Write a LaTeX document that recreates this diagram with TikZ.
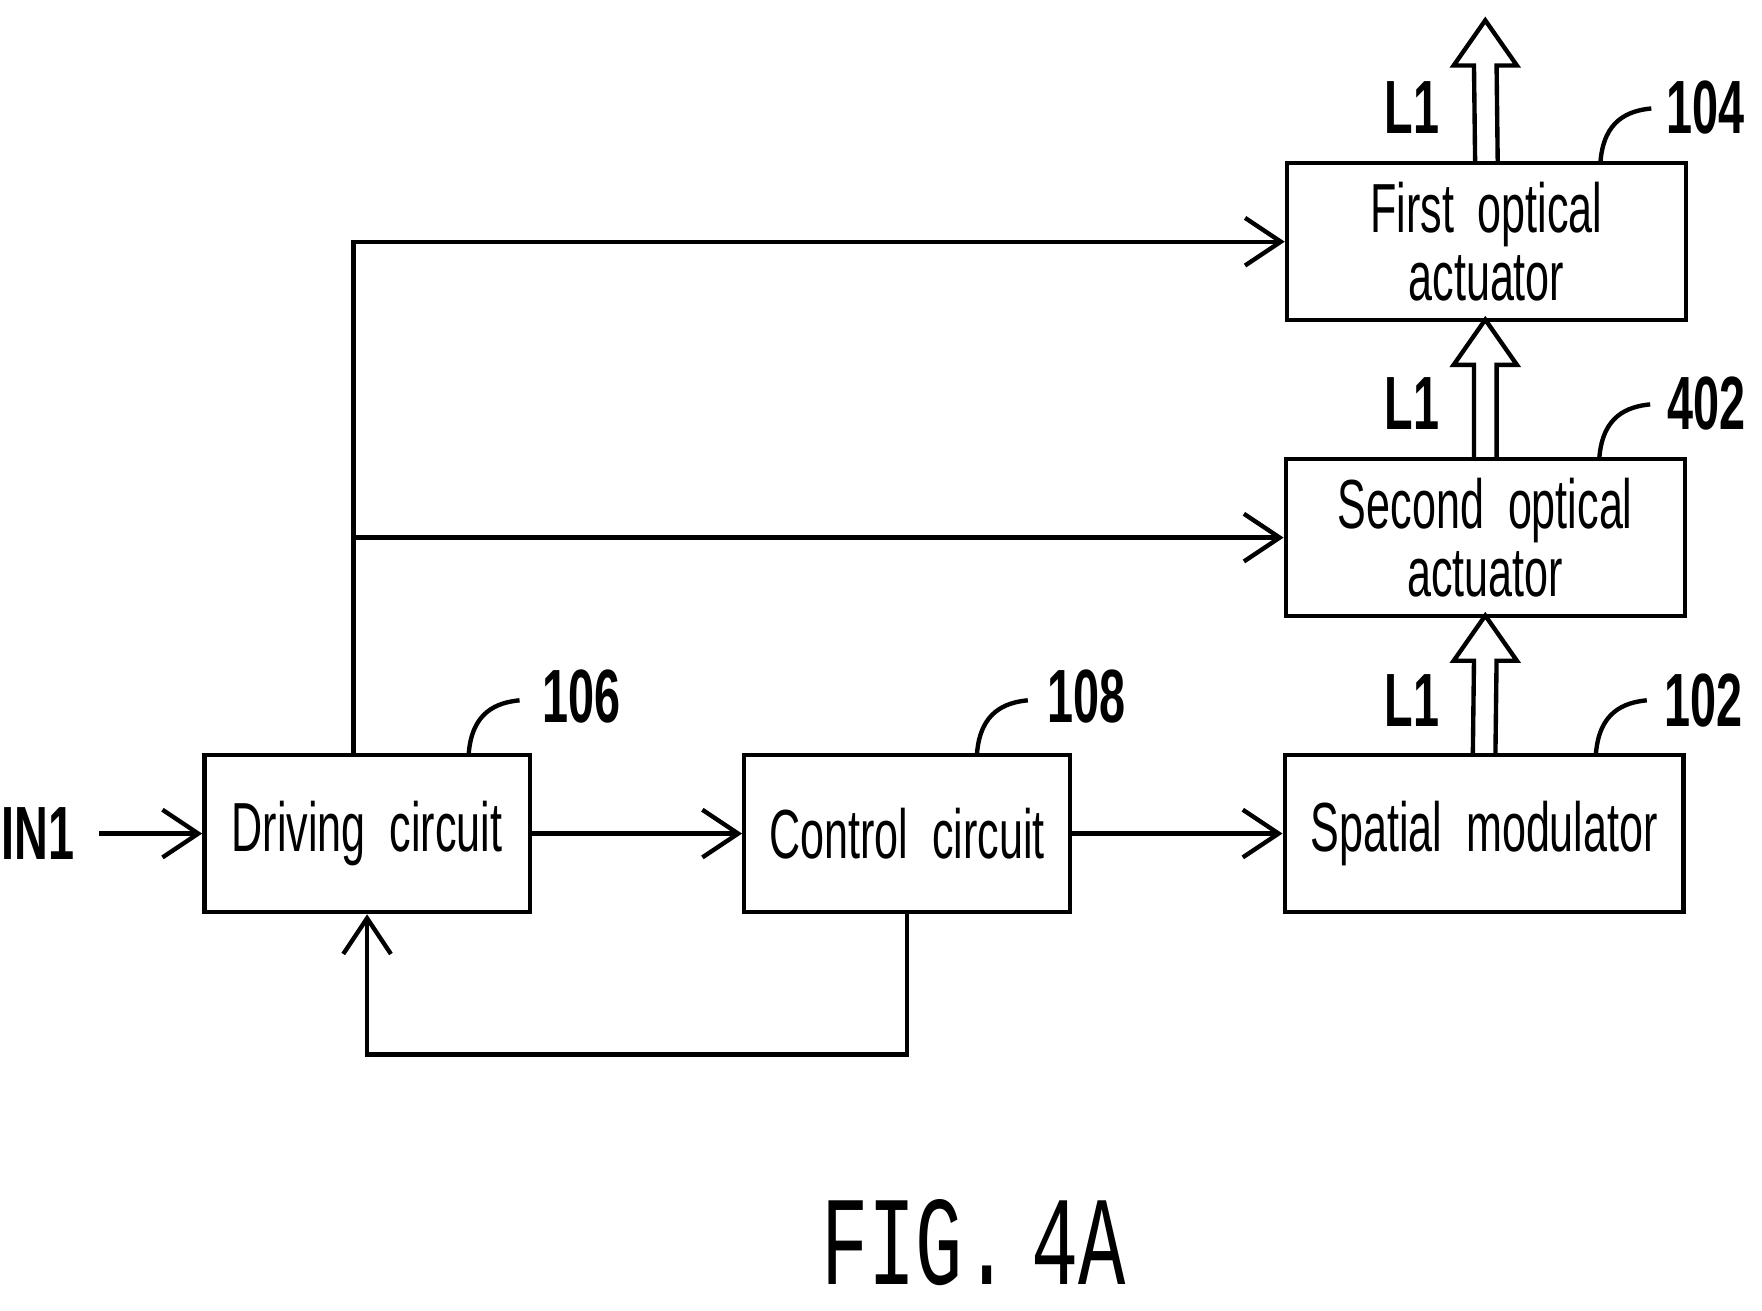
\documentclass[tikz,border=0pt]{standalone}
\usepackage{fontspec}
\setmainfont{Liberation Sans}
\newfontfamily\condfont[FakeStretch=0.62]{Liberation Sans}
\newfontfamily\figfont[FakeStretch=0.62]{Liberation Mono}
\usetikzlibrary{calc,positioning,arrows.meta}

\tikzset{
  blk/.style = {draw, line width=1.1pt, minimum width=2.88cm, minimum height=1.39cm,
                align=center, font=\condfont\fontsize{17.5}{17}\selectfont, inner sep=0pt},
  wide/.style = {blk, minimum width=3.53cm},
  sig/.style = {line width=1.1pt, -{Straight Barb[length=9pt,width=12pt,line width=1.1pt]}},
  tag/.style = {font=\condfont\bfseries\fontsize{19}{22}\selectfont},
  lead/.style = {line width=1.1pt},
  hollow/.style = {line width=1.1pt, line join=miter}
}

% hollow light arrow: #1 start node anchor, #2 end coordinate
\newcommand{\lightarrow}[2]{%
  \draw[hollow] ($#1+(-10,0)$) -- ($#2+(-10,40)$) -- ($#2+(-28,40)$) -- #2
    -- ($#2+(28,40)$) -- ($#2+(10,40)$) -- ($#1+(10,0)$);}

\begin{document}
\begin{tikzpicture}[x=0.01cm, y=-0.01cm]
  \useasboundingbox (0,0) rectangle (1560,1160);

  \node[blk] (drv) at (325,738) {Driving\ \ circuit};
  \node[blk] (ctl) at (803,738) {Control\ \ circuit};
  \node[wide] (spm) at (1314,738) {Spatial\ \ modulator};
  \node[wide] (soa) at (1315,476) {Second\ \ optical\\actuator};
  \node[wide] (foa) at (1316,214) {First\ \ optical\\actuator};

  \node[tag, anchor=east] (in) at (78,738) {IN1};
  \node[font=\figfont\fontsize{32}{36}\selectfont] (fig) at (862,1100) {FIG.\,4A};

  % signal path
  \draw[sig] (in.east) ++(10,0) -- (drv.west);
  \draw[sig] (drv) -- (ctl);
  \draw[sig] (ctl) -- (spm);
  \draw[sig] (ctl.south) -- ++(0,124) -| (drv.south);

  % drive lines to actuators
  \coordinate (up) at ($(drv.north)+(-12,0)$);
  \draw[sig] (up) |- (foa.west);
  \draw[sig] (up |- soa.west) -- (soa.west);

  % light path
  \coordinate (t1) at (1315,545);
  \coordinate (t2) at (1315,283);
  \coordinate (t3) at (1315,18);
  \lightarrow{(spm.north)}{(t1)}
  \lightarrow{(soa.north)}{(t2)}
  \lightarrow{(foa.north)}{(t3)}
  \node[tag] (l1a) at (1250,620) {L1};
  \node[tag] (l1b) at (1250,357) {L1};
  \node[tag] (l1c) at (1250,95) {L1};

  % reference numerals
  \draw[lead] (415,667) .. controls (418,630) and (440,622) .. (460,620);
  \node[tag, anchor=west] (n106) at (468,617) {106};
  \draw[lead] (865,667) .. controls (868,630) and (890,622) .. (910,620);
  \node[tag, anchor=west] (n108) at (915,617) {108};
  \draw[lead] (1413,667) .. controls (1416,630) and (1438,622) .. (1458,620);
  \node[tag, anchor=west] (n102) at (1461,620) {102};
  \draw[lead] (1416,405) .. controls (1419,368) and (1441,360) .. (1461,358);
  \node[tag, anchor=west] (n402) at (1464,357) {402};
  \draw[lead] (1417,143) .. controls (1420,106) and (1442,98) .. (1462,96);
  \node[tag, anchor=west] (n104) at (1463,95) {104};
\end{tikzpicture}
\end{document}
